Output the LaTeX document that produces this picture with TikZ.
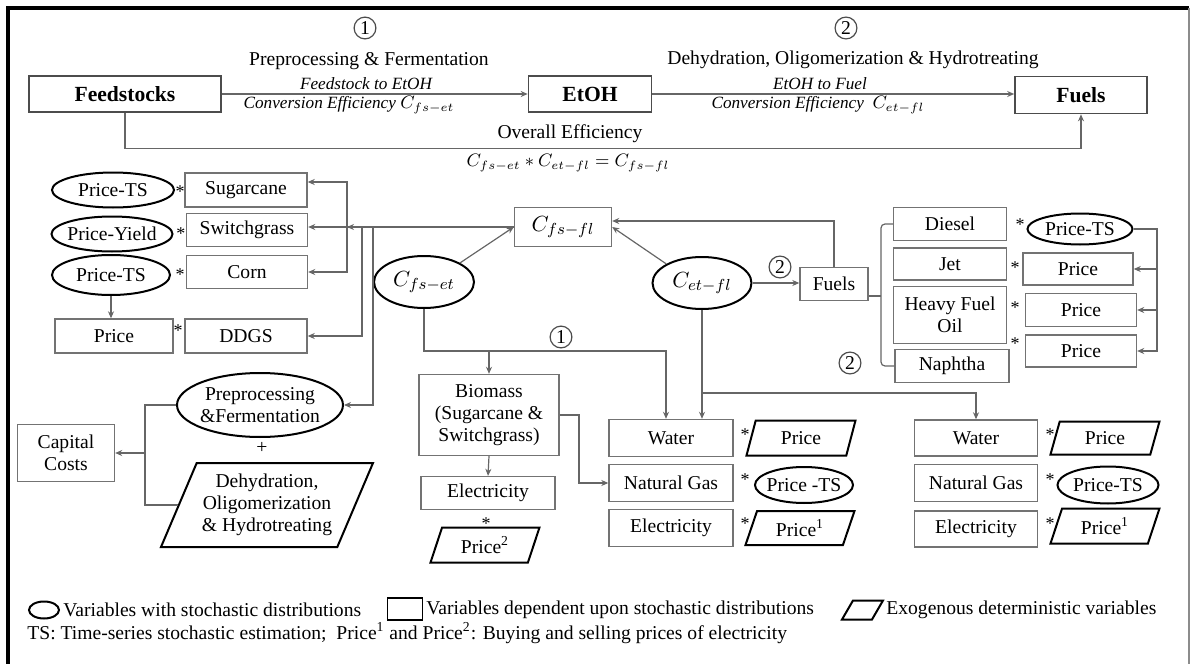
\documentclass[tikz,border=0pt]{standalone}
\usepackage{fontspec}
\setmainfont{Liberation Serif}
\usetikzlibrary{shapes.geometric,arrows.meta}

\begin{document}
\begin{tikzpicture}[x=0.5pt,y=-0.5pt,
  varbox/.style={draw=black!55,line width=0.7pt,rectangle,inner sep=1pt,align=center,font=\fontsize{9.8}{11}\selectfont},
  topbox/.style={varbox,draw=black!70,line width=0.8pt,font=\fontsize{10.8}{12}\selectfont\bfseries},
  stochvar/.style={draw=black,line width=1pt,ellipse,inner xsep=-3pt,inner ysep=0pt,align=center,font=\fontsize{9.8}{11}\selectfont},
  exovar/.style={draw=black,line width=1pt,trapezium,trapezium left angle=55,trapezium right angle=125,trapezium stretches body=true,inner sep=0pt,align=center,font=\fontsize{9.8}{11}\selectfont},
  exoline/.style={draw=black,line width=1pt},
  link/.style={draw=black!60,line width=0.6pt},
  linkarrow/.style={link,-{Stealth[length=3.5pt,width=3pt]}},
  numcirc/.style={circle,draw=black!70,line width=0.6pt,inner sep=1pt,font=\fontsize{9.8}{11}\selectfont},
  star/.style={inner sep=0pt,font=\fontsize{9}{10}\selectfont},
  lbl/.style={inner sep=0.5pt,font=\fontsize{9.8}{11}\selectfont},
  smlbl/.style={inner sep=0.5pt,font=\fontsize{8.6}{10}\selectfont\itshape},
  mathfont/.style={font=\fontsize{11}{13}\selectfont}
]
\useasboundingbox (0,0) rectangle (1191,664);
%Frame
\draw[line width=2pt] (8,664) -- (8,8) -- (1189,8);
\draw[black!45,line width=0.6pt] (1189,8) -- (1189,664);

%Top chain
\node[topbox,minimum width=96pt,minimum height=18pt] (feed) at (125,94) {Feedstocks};
\node[topbox,minimum width=61.5pt,minimum height=18pt] (etoh) at (590,94) {EtOH};
\node[topbox,minimum width=66pt,minimum height=18.5pt] (fuels) at (1081,95) {Fuels};
\node[numcirc] (n1) at (365,28) {1};
\node[numcirc] (n2) at (846,28) {2};
% Text Node
\node[lbl] (stage1) at (369,61) {Preprocessing \& Fermentation};
\node[lbl] (stage2) at (853,60) {Dehydration, Oligomerization \& Hydrotreating};
\node[smlbl] (fsetA) at (366,84) {Feedstock to EtOH};
\node[smlbl] (fsetB) at (349,105) {Conversion Efficiency $C_{fs-et}$};
\node[smlbl] (etflA) at (820,84) {EtOH to Fuel};
\node[smlbl] (etflB) at (818,105) {Conversion Efficiency\ \ $C_{et-fl}$};
\node[lbl] (overall) at (570,134) {Overall Efficiency};
\node[lbl,font=\fontsize{8.6}{10}\selectfont] (eqn) at (568,163) {$C_{fs-et} * C_{et-fl} = C_{fs-fl}$};
%Straight Lines
\draw[linkarrow] (feed.east) -- (feed.east -| etoh.west);
\draw[linkarrow] (etoh.east) -- (etoh.east -| fuels.west);
\draw[linkarrow] (feed.south) -- ++(0,36) -| (fuels.south);

%Feedstock side
\node[stochvar,minimum width=61pt,minimum height=17.5pt] (ptsA) at (113,190) {Price-TS};
\node[stochvar,minimum width=60.5pt,minimum height=17.5pt] (pyield) at (112,234) {Price-Yield};
\node[stochvar,minimum width=59pt,minimum height=20pt] (ptsB) at (111,275) {Price-TS};
\node[varbox,minimum width=61pt,minimum height=17pt] (sugar) at (246,190) {Sugarcane};
\node[varbox,minimum width=60.5pt,minimum height=16.5pt] (swgrass) at (247,230) {Switchgrass};
\node[varbox,minimum width=60.5pt,minimum height=16.5pt] (corn) at (247,272) {Corn};
\node[varbox,minimum width=59pt,minimum height=17pt] (pddgs) at (114,336) {Price};
\node[varbox,minimum width=61pt,minimum height=17pt] (ddgs) at (246,336) {DDGS};
\node[star] (sA) at (180,192) {*};
\node[star] (sB) at (181,234) {*};
\node[star] (sC) at (180,275) {*};
\node[star] (sD) at (178,331) {*};
\node[stochvar,minimum width=83pt,minimum height=32pt] (prep) at (260,405) {Preprocessing\\\&Fermentation};
\node[varbox,minimum width=48.5pt,minimum height=28.5pt] (capital) at (66,453) {Capital\\Costs};
\node[lbl] (plus) at (262,448) {+};
\node[exovar,trapezium left angle=60,trapezium right angle=120,minimum width=106pt,minimum height=42pt] (dehy) at (267,505) {Dehydration,\\Oligomerization\\\& Hydrotreating};

%Efficiencies
\node[varbox,mathfont,minimum width=48.5pt,minimum height=19.5pt] (cfsfl) at (563,227) {$C_{fs-fl}$};
\node[stochvar,mathfont,minimum width=50pt,minimum height=26pt] (cfset) at (424,282) {$C_{fs-et}$};
\node[stochvar,mathfont,minimum width=49.5pt,minimum height=26pt] (cetfl) at (702,283) {$C_{et-fl}$};
\coordinate (jA) at (347,227);
\coordinate (jB) at (362,227);
\coordinate (jC) at (373,227);
\draw[linkarrow] (cfsfl.west) -- (cfsfl.west -| swgrass.east);
\draw[linkarrow] (cfsfl.west) -- (jA);
\draw[linkarrow] (jA) |- ([yshift=4pt]sugar.east);
\draw[linkarrow] (jA) |- (corn.east);
\draw[linkarrow] (jB) |- (ddgs.east);
\draw[linkarrow] (jC) |- (prep.east);
\draw[linkarrow] (ptsB.south) -- (ptsB.south |- pddgs.north);
\coordinate (jD) at (145,453);
\draw[link] (prep.west) -| (jD) |- (dehy.west);
\draw[linkarrow] (jD) -- (capital.east);
\draw[linkarrow] (cfset.north east) -- (cfsfl.west);
\draw[linkarrow] (cetfl.north west) -- (cfsfl.east);

%Fuel side
\node[varbox,minimum width=34pt,minimum height=16.5pt] (fuelsm) at (834,284) {Fuels};
\node[numcirc] (n2b) at (780,267) {2};
\draw[linkarrow] (cetfl.east) -- (cetfl.east -| fuelsm.west);
\draw[linkarrow] (fuelsm.north) |- ([yshift=3pt]cfsfl.east);
\node[varbox,minimum width=56.5pt,minimum height=16.5pt] (diesel) at (950,224) {Diesel};
\node[varbox,minimum width=56.5pt,minimum height=16pt] (jet) at (950,264) {Jet};
\node[varbox,minimum width=56.5pt,minimum height=28.5pt] (hfo) at (950,315) {Heavy Fuel\\Oil};
\node[varbox,minimum width=57pt,minimum height=16.5pt] (naphtha) at (952,366) {Naphtha};
\coordinate (brk) at (881,296);
\draw[link] (fuelsm.east |- brk) -- (brk);
\draw[link,rounded corners=2pt] (diesel.west) -- (881,224) -- (881,366) -- (naphtha.west);
\node[numcirc] (n2c) at (850,363) {2};
\node[stochvar,minimum width=52.5pt,minimum height=15.5pt] (ptsD) at (1080,229) {Price-TS};
\node[varbox,minimum width=55pt,minimum height=16pt] (pjet) at (1078,269) {Price};
\node[varbox,minimum width=55.5pt,minimum height=16.5pt] (phfo) at (1081,310) {Price};
\node[varbox,minimum width=55.5pt,minimum height=16pt] (pnap) at (1081,351) {Price};
\node[star] (sE) at (1020,225) {*};
\node[star] (sF) at (1015,268) {*};
\node[star] (sG) at (1015,308) {*};
\node[star] (sH) at (1015,344) {*};
\coordinate (jR) at (1157,0);
\draw[linkarrow] (ptsD.east) -| (jR |- pjet.east) -- (pjet.east);
\draw[linkarrow] (jR |- pjet.east) |- (pnap.east);
\draw[linkarrow] (jR |- phfo.east) -- (phfo.east);

%Utilities, stage 1
\node[varbox,minimum width=70pt,minimum height=40.5pt] (biomass) at (489,415) {Biomass\\(Sugarcane \&\\Switchgrass)};
\node[varbox,minimum width=67pt,minimum height=16.5pt] (elecL) at (488,493) {Electricity};
\node[star] (sI) at (486,524) {*};
\node[exovar,minimum width=54.5pt,minimum height=17.5pt] (pelecL) at (485,545) {Price\textsuperscript{2}};
\node[varbox,minimum width=62pt,minimum height=18.5pt] (watM) at (671,438) {Water};
\node[varbox,minimum width=62pt,minimum height=18.5pt] (ngM) at (671,483) {Natural Gas};
\node[varbox,minimum width=62pt,minimum height=18.5pt] (elecM) at (671,528) {Electricity};
\node[star] (sJ) at (745,435) {*};
\node[star] (sK) at (745,480) {*};
\node[star] (sL) at (745,524) {*};
\node[exovar,minimum width=54.5pt,minimum height=17.5pt] (pwatM) at (801,438) {Price};
\node[stochvar,minimum width=49pt,minimum height=18pt] (pngM) at (804,485) {Price -TS};
\node[exovar,minimum width=54.5pt,minimum height=17pt] (pelecM) at (800,528) {Price\textsuperscript{1}};
\node[numcirc] (n1b) at (561,337) {1};
\coordinate (jF) at (666,351);
\draw[linkarrow] (cfset.south) |- (jF) -- (jF |- watM.north);
\draw[linkarrow] (biomass.north |- jF) -- (biomass.north);
\draw[linkarrow] (biomass.south) -- (elecL.north);
\coordinate (jH) at (579,415);
\draw[linkarrow] (biomass.east) -- (jH) |- (ngM.west);

%Utilities, stage 2
\node[varbox,minimum width=61.5pt,minimum height=18pt] (watR) at (976,438) {Water};
\node[varbox,minimum width=61.5pt,minimum height=18.5pt] (ngR) at (976,483) {Natural Gas};
\node[varbox,minimum width=61.5pt,minimum height=18pt] (elecR) at (976,529) {Electricity};
\node[star] (sM) at (1050,435) {*};
\node[star] (sN) at (1050,480) {*};
\node[star] (sO) at (1050,524) {*};
\node[exovar,minimum width=54.5pt,minimum height=16.5pt] (pwatR) at (1105,438) {Price};
\node[stochvar,minimum width=50.5pt,minimum height=18.5pt] (pngR) at (1108,485) {Price-TS};
\node[exovar,minimum width=54.5pt,minimum height=17.5pt] (pelecR) at (1105,526) {Price\textsuperscript{1}};
\coordinate (jG) at (976,393);
\draw[linkarrow] (cetfl.south) -- (cetfl.south |- watM.north);
\draw[linkarrow] (cetfl.south |- jG) -| (watR.north);

%Legend
\node[stochvar,minimum width=15pt,minimum height=8.5pt] (lgoval) at (44,610) {};
\node[lbl,anchor=west] (lgtxtA) at (62,610) {Variables with stochastic distributions};
\node[varbox,draw=black,line width=0.9pt,minimum width=17.5pt,minimum height=11pt] (lgbox) at (405,609) {};
\node[lbl,anchor=west] (lgtxtB) at (425,610) {Variables dependent upon stochastic distributions};
\coordinate (lgpar) at (862,610);
\draw[exoline] (lgpar) ++(-20,9.5) -- ++(30,0) -- ++(11,-19) -- ++(-30,0) -- cycle;
\node[lbl,anchor=west] (lgtxtC) at (885,610) {Exogenous deterministic variables};
\node[lbl,anchor=west] (lgtxtD) at (26,633) {TS: Time-series stochastic estimation;\ \ Price\textsuperscript{1} and Price\textsuperscript{2}: Buying and selling prices of electricity};

\end{tikzpicture}
\end{document}
